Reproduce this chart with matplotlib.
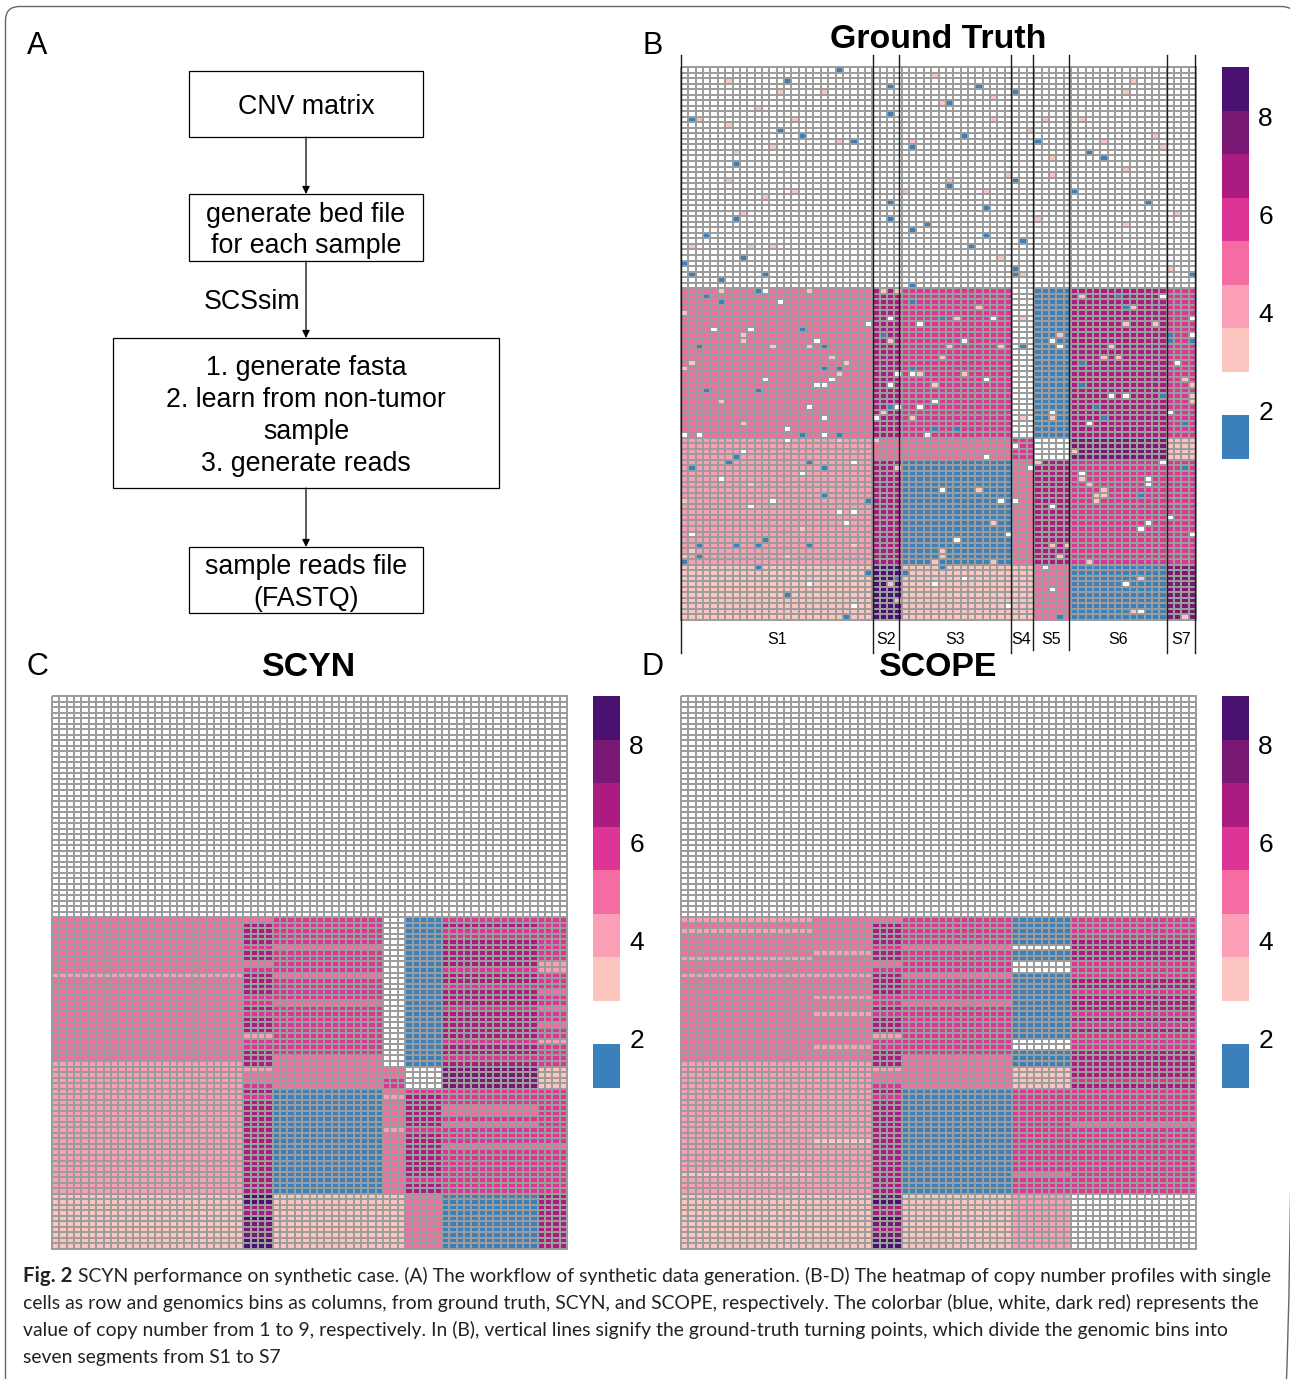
import numpy as np
import matplotlib
matplotlib.use("Agg")
import matplotlib.pyplot as plt
from matplotlib.colors import ListedColormap, BoundaryNorm
from matplotlib.patches import FancyBboxPatch, Rectangle
from matplotlib.transforms import blended_transform_factory

W, H = 1290, 1379
N_ROWS, N_COLS = 100, 70

# copy number 1 to 9
COLORS = ["#3a80bb", "#ffffff", "#fcc5c0", "#fa9fb5", "#f56ca2",
          "#dc3595", "#ab1c80", "#7a1975", "#4a1270"]
CBAR_TICKS = [2, 4, 6, 8]

SEGMENT_WIDTHS = [26, 4, 15, 3, 5, 13, 4]
SEGMENT_NAMES = ["S1", "S2", "S3", "S4", "S5", "S6", "S7"]
TURNING_POINTS = [0, 26.1, 29.6, 44.8, 47.8, 52.7, 66.0, 69.9]
TURNING_LONG = [True, True, False, True, False, False, True, True]

# ground truth clones: number of rows, then value per segment
TRUTH_CLONES = [
    (40, [2, 2, 2, 2, 2, 2, 2]),
    (27, [5, 7, 6, 2, 1, 7, 6]),
    (4, [4, 5, 5, 6, 2, 8, 3]),
    (19, [4, 7, 1, 5, 7, 6, 6]),
    (10, [3, 9, 3, 3, 5, 1, 8]),
]

# single cell deviations in ground truth (row, col)
TRUTH_BLUE = [
    (0, 21), (2, 14), (3, 28), (3, 40), (4, 45), (6, 36), (8, 28), (9, 1), (11, 13), (12, 16),
    (12, 38), (13, 23), (13, 48), (14, 31), (15, 55), (16, 57), (17, 7), (20, 45), (21, 36),
    (22, 53), (24, 28), (24, 63), (25, 41), (27, 7), (27, 28), (28, 33), (29, 31), (30, 3),
    (30, 41), (31, 46), (32, 39), (34, 8), (35, 0), (36, 45), (37, 1), (37, 11), (37, 45),
    (37, 69), (38, 5), (39, 31),
    (40, 10), (41, 3), (41, 59), (42, 5), (42, 31), (43, 60), (45, 35), (47, 16), (48, 27),
    (48, 66), (49, 66), (49, 69), (50, 2), (50, 19), (50, 46), (53, 54), (54, 19), (54, 21),
    (54, 31), (57, 54), (58, 3), (58, 10), (59, 65), (61, 28), (61, 56), (63, 57), (64, 68),
    (65, 34), (65, 37), (66, 16), (66, 21), (70, 7),
    (71, 6), (71, 17), (72, 1), (72, 19), (72, 68), (77, 19), (77, 62), (78, 25), (85, 11),
    (86, 2), (86, 7), (86, 10), (86, 17), (88, 2), (89, 0), (90, 10), (90, 35), (91, 25),
    (91, 30), (92, 29), (95, 14), (99, 22), (99, 51),
]
TRUTH_WHITE = [
    (40, 11), (41, 65), (42, 13), (45, 28), (45, 42), (45, 69), (46, 25), (46, 32), (47, 4),
    (47, 9), (48, 69), (49, 18), (49, 38), (49, 50), (50, 51), (53, 67), (55, 29), (55, 31),
    (56, 11), (56, 20), (56, 41), (57, 18), (57, 19), (57, 28), (59, 58), (59, 60), (60, 34),
    (61, 17), (61, 29), (61, 32), (62, 50), (62, 66), (63, 19), (63, 26), (64, 55), (65, 14),
    (66, 0), (66, 2), (66, 19), (66, 33), (67, 14), (68, 45), (69, 8), (70, 41),
    (71, 23), (71, 65), (72, 47), (73, 16), (73, 54), (74, 5), (74, 63), (75, 63), (76, 35),
    (78, 12), (78, 43), (78, 45), (79, 9), (79, 50), (80, 21), (80, 23), (81, 66), (82, 22),
    (82, 63), (83, 62), (84, 1), (84, 44), (84, 69), (85, 37), (90, 49), (92, 38), (93, 17),
    (93, 34), (93, 60), (94, 50), (97, 23), (97, 44), (98, 62),
]
TRUTH_PALE = [
    (1, 34), (2, 6), (2, 61), (4, 13), (4, 19), (4, 60), (5, 42), (6, 35), (7, 10), (9, 2),
    (9, 15), (9, 42), (9, 49), (9, 54), (10, 6), (11, 47), (12, 64), (13, 21), (13, 31),
    (13, 57), (14, 12), (14, 65), (15, 7), (16, 50), (18, 60), (19, 44), (19, 50), (20, 6),
    (20, 36), (22, 15), (22, 30), (22, 41), (23, 11), (26, 8), (26, 67), (27, 48), (28, 60),
    (32, 1), (32, 9), (32, 12), (34, 43), (36, 66), (37, 46),
    (40, 5), (40, 17), (40, 27), (40, 29), (41, 54), (43, 40), (43, 61), (44, 0), (45, 37),
    (45, 46), (46, 60), (46, 64), (48, 8), (48, 51), (49, 8), (49, 28), (50, 12), (50, 17),
    (50, 36), (50, 43), (50, 58), (52, 20), (52, 35), (52, 57), (52, 59), (53, 1), (53, 22),
    (54, 0), (55, 21), (55, 32), (55, 38), (56, 68), (57, 34), (57, 69), (59, 69), (60, 5),
    (60, 69), (62, 27), (63, 31), (63, 46), (63, 50), (64, 8), (67, 21), (67, 26), (69, 53),
    (71, 48), (72, 29), (74, 54), (75, 9), (75, 55), (76, 40), (76, 57), (77, 56), (77, 57),
    (78, 0), (78, 56), (82, 42), (83, 16), (86, 23), (86, 50), (86, 52), (87, 1), (87, 35),
    (88, 0), (88, 14), (88, 35), (88, 51), (89, 34), (89, 42), (89, 55), (92, 62), (93, 28),
    (96, 29), (98, 61), (99, 68),
]

# rows 40 to 99, one digit per row; rows 0 to 39 are all 2 in both methods
SCYN_WIDTHS = [26, 4, 15, 3, 5, 13, 4]
SCYN_ROWS = [
    "5555555555 4555555555 5555554444 4444444444 4444444444 3333333333",
    "5777767756 7777667677 7466777455 6767777777 7777777777 9977988899",
    "6666656666 5666656666 6666655555 5111111111 1111111111 3333333333",
    "2222222222 2222222222 2222222556 6545555545 5555555555 3333333333",
    "1111111111 1111111111 1111111222 2677777767 7777777677 5555555555",
    "6766777776 7767776777 7767767888 8666556566 6566666666 1111111111",
    "6666666644 6665665665 6646666333 3666666666 6566666666 7777777777",
]

SCOPE_WIDTHS = [18, 8, 4, 15, 8, 17]
SCOPE_ROWS = [
    "4545555455 4555555555 5555554444 4444444444 4444443444 3333333333",
    "5555554555 4555455455 5554554444 4444444444 3444444444 3333333333",
    "5777767756 7777667677 7466777455 6767777777 7777777777 8977987899",
    "6666656666 5666656666 6666655555 5111111111 1111111111 3333333333",
    "1111121122 1111111111 1122111333 3666666666 6666665666 4444444444",
    "6666777766 6776777676 7666777776 7666666566 6666666666 2222222222",
]

FIG_TITLES = ["Ground Truth", "SCYN", "SCOPE"]
FLOW_BOXES = ["CNV matrix", "generate bed file\nfor each sample",
              "1. generate fasta\n2. learn from non-tumor\nsample\n3. generate reads",
              "sample reads file\n(FASTQ)"]
CAPTION = [
    "SCYN performance on synthetic case. (A) The workflow of synthetic data generation. (B-D) The heatmap of copy number profiles with single",
    "cells as row and genomics bins as columns, from ground truth, SCYN, and SCOPE, respectively. The colorbar (blue, white, dark red) represents the",
    "value of copy number from 1 to 9, respectively. In (B), vertical lines signify the ground-truth turning points, which divide the genomic bins into",
    "seven segments from S1 to S7",
]


def truth_matrix():
    rows = []
    for count, vals in TRUTH_CLONES:
        rows += [np.repeat(vals, SEGMENT_WIDTHS)] * count
    m = np.array(rows)
    for cells, v in [(TRUTH_BLUE, 1), (TRUTH_WHITE, 2), (TRUTH_PALE, 3)]:
        for r, c in cells:
            m[r, c] = v
    return m


def method_matrix(seg_rows, widths):
    m = np.full((N_ROWS, N_COLS), 2)
    col = 0
    for digits, w in zip(seg_rows, widths):
        vals = [int(d) for d in digits.replace(" ", "")]
        m[40:, col:col + w] = np.array(vals)[:, None]
        col += w
    return m


def px_axes(fig, x0, y0, x1, y1):
    return fig.add_axes([x0 / W, 1 - y1 / H, (x1 - x0) / W, (y1 - y0) / H])


def draw_heatmap(fig, m, x0, y0):
    ax = px_axes(fig, x0, y0, x0 + 515, y0 + 553)
    cmap = ListedColormap(COLORS)
    norm = BoundaryNorm(np.arange(0.5, 10), 9)
    mesh = ax.pcolormesh(np.arange(N_COLS + 1), np.arange(N_ROWS + 1), m, cmap=cmap, norm=norm,
                         edgecolors="#9c9c9c", linewidth=1.15)
    mesh.set_clip_on(False)
    ax.set_xlim(0, N_COLS)
    ax.set_ylim(N_ROWS, 0)
    ax.axis("off")
    return ax


def draw_colorbar(fig, x0, y0):
    ax = px_axes(fig, x0, y0, x0 + 26.5, y0 + 392)
    edges = np.linspace(1, 9, 10)
    ax.pcolormesh([0, 1], edges, np.arange(1, 10)[:, None], cmap=ListedColormap(COLORS),
                  norm=BoundaryNorm(np.arange(0.5, 10), 9))
    ax.set_xticks([])
    ax.set_yticks(CBAR_TICKS)
    ax.yaxis.tick_right()
    ax.tick_params(axis="y", length=0, pad=7, labelsize=19)
    for s in ax.spines.values():
        s.set_visible(False)


plt.rcParams["font.family"] = ["Liberation Sans", "DejaVu Sans"]
fig = plt.figure(figsize=(W / 100, H / 100), dpi=100, facecolor="white")

page = fig.add_axes([0, 0, 1, 1])
page.set_xlim(0, W)
page.set_ylim(H, 0)
page.axis("off")
page.add_patch(FancyBboxPatch((5.5, 6.5), W, H + 50, boxstyle="round,pad=0,rounding_size=14",
                              fc="none", ec="#666666", lw=1.0))

# panel A
boxes = [(189, 71, 423, 137), (189, 194, 423, 261), (113, 338, 499, 488), (189, 547, 423, 613)]
for (x0, y0, x1, y1), label in zip(boxes, FLOW_BOXES):
    page.text((x0 + x1) / 2, (y0 + y1) / 2 + 3, label, ha="center", va="center", fontsize=19.3,
              linespacing=1.29)
    page.add_patch(Rectangle((x0, y0), x1 - x0, y1 - y0, fc="white", ec="black", lw=0.9, zorder=0.5))
for (_, _, _, y0), (_, y1, _, _) in zip(boxes[:-1], boxes[1:]):
    page.annotate("", xy=(306, y1), xytext=(306, y0),
                  arrowprops=dict(arrowstyle="-|>", color="black", lw=0.9, mutation_scale=11,
                                  shrinkA=0, shrinkB=0))
page.text(252, 302, "SCSsim", ha="center", va="center", fontsize=19.3)

for letter, x, y in [("A", 37, 46), ("B", 653, 46), ("C", 37, 667), ("D", 653, 667)]:
    page.text(x, y, letter, ha="center", va="center", fontsize=22)

# heatmaps
ax_b = draw_heatmap(fig, truth_matrix(), 681, 67)
draw_heatmap(fig, method_matrix(SCYN_ROWS, SCYN_WIDTHS), 52, 696)
draw_heatmap(fig, method_matrix(SCOPE_ROWS, SCOPE_WIDTHS), 681, 696)
draw_colorbar(fig, 1222, 67)
draw_colorbar(fig, 593, 696)
draw_colorbar(fig, 1222, 696)

for title, x, y in zip(FIG_TITLES, [938, 309, 938], [39, 667, 667]):
    page.text(x, y, title, ha="center", va="center", fontsize=24.4, fontweight="bold", zorder=5)

# turning points and segment names on B
trans = blended_transform_factory(ax_b.transData, ax_b.transAxes)
for tp, long_line in zip(TURNING_POINTS, TURNING_LONG):
    bottom = (620 - (653 if long_line else 650)) / 553
    ax_b.plot([tp, tp], [bottom, 1 + 12 / 553], transform=trans, color="#1a1a1a", lw=1.0, clip_on=False)
for i, name in enumerate(SEGMENT_NAMES):
    mid = (TURNING_POINTS[i] + TURNING_POINTS[i + 1]) / 2
    ax_b.text(mid, -19 / 553, name, transform=trans, ha="center", va="center", fontsize=11.5)

# caption
page.text(23, 1276, "Fig. 2", ha="left", va="center", fontsize=14.8, fontweight="bold",
          family=["Lato", "DejaVu Sans"], color="#222222")
for i, (line, y) in enumerate(zip(CAPTION, [1276, 1303, 1330, 1357])):
    page.text(78 if i == 0 else 23, y, line, ha="left", va="center", fontsize=13.93,
              family=["Lato", "DejaVu Sans"], color="#222222")

fig.savefig("out.png", dpi=100)
